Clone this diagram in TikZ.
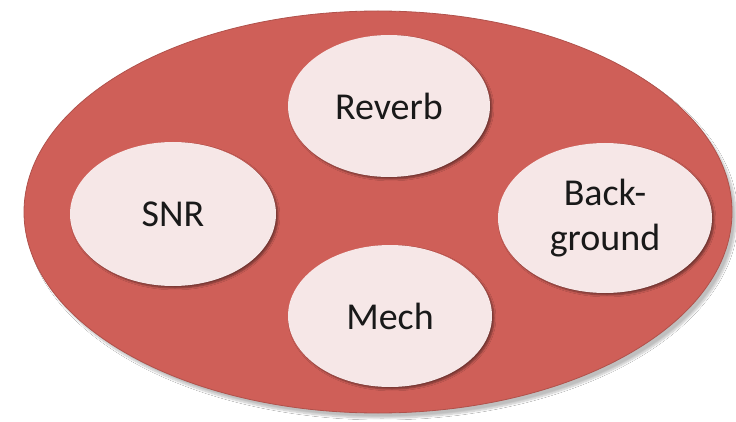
\documentclass[tikz,border=0pt]{standalone}
\usepackage{fontspec}
\setmainfont{Carlito}
\usetikzlibrary{shapes.geometric, shadows.blur, positioning}

\definecolor{outerred}{HTML}{CF5F58}
\definecolor{innerpink}{HTML}{F6E7E7}

\tikzset{
  outer/.style={ellipse, fill=outerred, draw=outerred!85!black, line width=0.8pt,
    inner sep=0pt, minimum width=708pt, minimum height=402pt,
    blur shadow={shadow xshift=4pt, shadow yshift=-5pt, shadow blur steps=10,
      shadow opacity=25}},
  factor/.style={ellipse, fill=innerpink, inner sep=0pt, align=center,
    font=\fontsize{38}{45}\selectfont, text=black!90,
    blur shadow={shadow xshift=2pt, shadow yshift=-2pt, shadow blur steps=5,
      shadow opacity=45}}
}

\begin{document}
\begin{tikzpicture}[x=1pt, y=-1pt]
    \fill[white] (0,0) rectangle (736,422);
    \useasboundingbox (0,0) rectangle (736,422);

    % Outer ellipse
    \node[outer] (all) at (378,212) {};

    % Inner factors
    \node[factor, minimum width=202pt, minimum height=142pt] (reverb) at (389,106) {Reverb};
    \node[factor, minimum width=206pt, minimum height=144pt] (snr) at (173,214) {SNR};
    \node[factor, minimum width=214pt, minimum height=150pt] (backgr) at (605,218) {Back-\\ground};
    \node[factor, minimum width=204pt, minimum height=142pt] (mech) at (390,316) {Mech};
\end{tikzpicture}
\end{document}
